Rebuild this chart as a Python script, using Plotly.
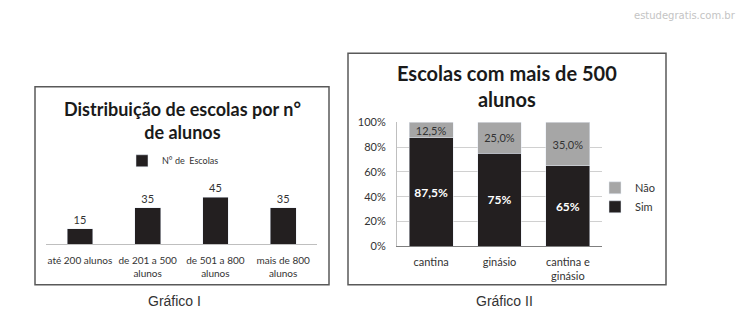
import plotly.graph_objects as go

W, H = 741, 334

# ---- data ----
cat1 = ["até 200 alunos", "de 201 a 500<br>alunos", "de 501 a 800<br>alunos", "mais de 800<br>alunos"]
val1 = [15, 35, 45, 35]

cat2 = ["cantina", "ginásio", "cantina e<br>ginásio"]
sim = [87.5, 75, 65]
nao = [12.5, 25, 35]
sim_txt = ["87,5%", "75%", "65%"]
nao_txt = ["12,5%", "25,0%", "35,0%"]

FONT = "Lato"
DARK = "#231f20"
GRAY = "#a6a6a6"

def px(x):
    return x / W

def py(y):
    return 1 - y / H

fig = go.Figure()

fig.add_trace(go.Bar(
    x=cat1, y=val1, name="N° de  Escolas", marker_color=DARK, width=0.38,
    text=[str(v) for v in val1], textposition="outside", cliponaxis=False,
    textfont=dict(size=11, color="#333333", family=FONT),
    xaxis="x", yaxis="y", legend="legend",
))

fig.add_trace(go.Bar(
    x=cat2, y=sim, name="Sim", marker_color=DARK, width=0.64,
    text=sim_txt, textposition="inside", insidetextanchor="middle", constraintext="none",
    textfont=dict(size=12, color="white", family=FONT, weight="bold"),
    xaxis="x2", yaxis="y2", legend="legend2",
))
fig.add_trace(go.Bar(
    x=cat2, y=nao, name="Não", marker_color=GRAY, width=0.64,
    text=nao_txt, textposition="inside", insidetextanchor="middle", constraintext="none",
    textfont=dict(size=11, color="#333333", family=FONT),
    xaxis="x2", yaxis="y2", legend="legend2",
))

tickfont1 = dict(size=10, color="#333333", family=FONT)
tickfont2 = dict(size=11, color="#333333", family=FONT)

fig.update_layout(
    width=W, height=H,
    margin=dict(l=0, r=0, t=0, b=0),
    paper_bgcolor="white", plot_bgcolor="white",
    barmode="stack",
    font=dict(family=FONT, color="#333333"),
    xaxis=dict(domain=[px(46), px(317)], showline=True, linecolor="#bfbfbf", linewidth=1,
               ticks="", tickfont=tickfont1, tickangle=0, showgrid=False, anchor="y",
               ticklabelstandoff=7),
    yaxis=dict(domain=[py(247), py(192.5)], range=[0, 50], visible=False, showgrid=False, anchor="x"),
    xaxis2=dict(domain=[px(397), px(602)], showline=True, linecolor="#7f7f7f", linewidth=1,
                ticks="", tickfont=tickfont2, tickangle=0, showgrid=False, anchor="y2",
                ticklabelstandoff=5),
    yaxis2=dict(domain=[py(249), py(120)], range=[0, 100], dtick=20, ticksuffix="%",
                showgrid=True, gridcolor="#d0d0d0", gridwidth=1, showline=True,
                linecolor="#bfbfbf", ticks="", tickfont=tickfont2, anchor="x2", zeroline=False,
                ticklabelstandoff=8),
    legend=dict(x=px(122), y=py(160), xanchor="left", yanchor="middle", orientation="h",
                font=dict(size=9, color="#333333", family=FONT), bgcolor="rgba(0,0,0,0)",
                itemwidth=30),
    legend2=dict(x=px(595), y=py(198), xanchor="left", yanchor="middle",
                 font=dict(size=11, color="#333333", family=FONT), bgcolor="rgba(0,0,0,0)",
                 itemwidth=30, tracegroupgap=4),
    showlegend=True,
)

# frames around each chart
fig.add_shape(type="rect", xref="paper", yref="paper",
              x0=px(35), x1=px(329), y0=py(289), y1=py(83),
              line=dict(color="#595959", width=1.5))
fig.add_shape(type="rect", xref="paper", yref="paper",
              x0=px(348), x1=px(666), y0=py(289), y1=py(48),
              line=dict(color="#595959", width=1.5))

ann = [
    dict(text="<b>Distribuição de escolas por n°<br>de alunos</b>", x=px(182), y=py(118),
         font=dict(size=18, color="#1a1a1a", family=FONT)),
    dict(text="<b>Escolas com mais de 500<br>alunos</b>", x=px(507), y=py(82),
         font=dict(size=20, color="#1a1a1a", family=FONT)),
    dict(text="Gráfico I", x=px(174), y=py(306),
         font=dict(size=14, color="#333333", family="Liberation Sans")),
    dict(text="Gráfico II", x=px(504), y=py(306),
         font=dict(size=14, color="#333333", family="Liberation Sans")),
    dict(text="estudegratis.com.br", x=px(738), y=py(9), xanchor="right",
         font=dict(size=10, color="#c4c4c4", family="DejaVu Sans")),
]
for a in ann:
    a.setdefault("xanchor", "center")
    fig.add_annotation(xref="paper", yref="paper", yanchor="middle", showarrow=False, **a)

fig.write_html("out.html")
